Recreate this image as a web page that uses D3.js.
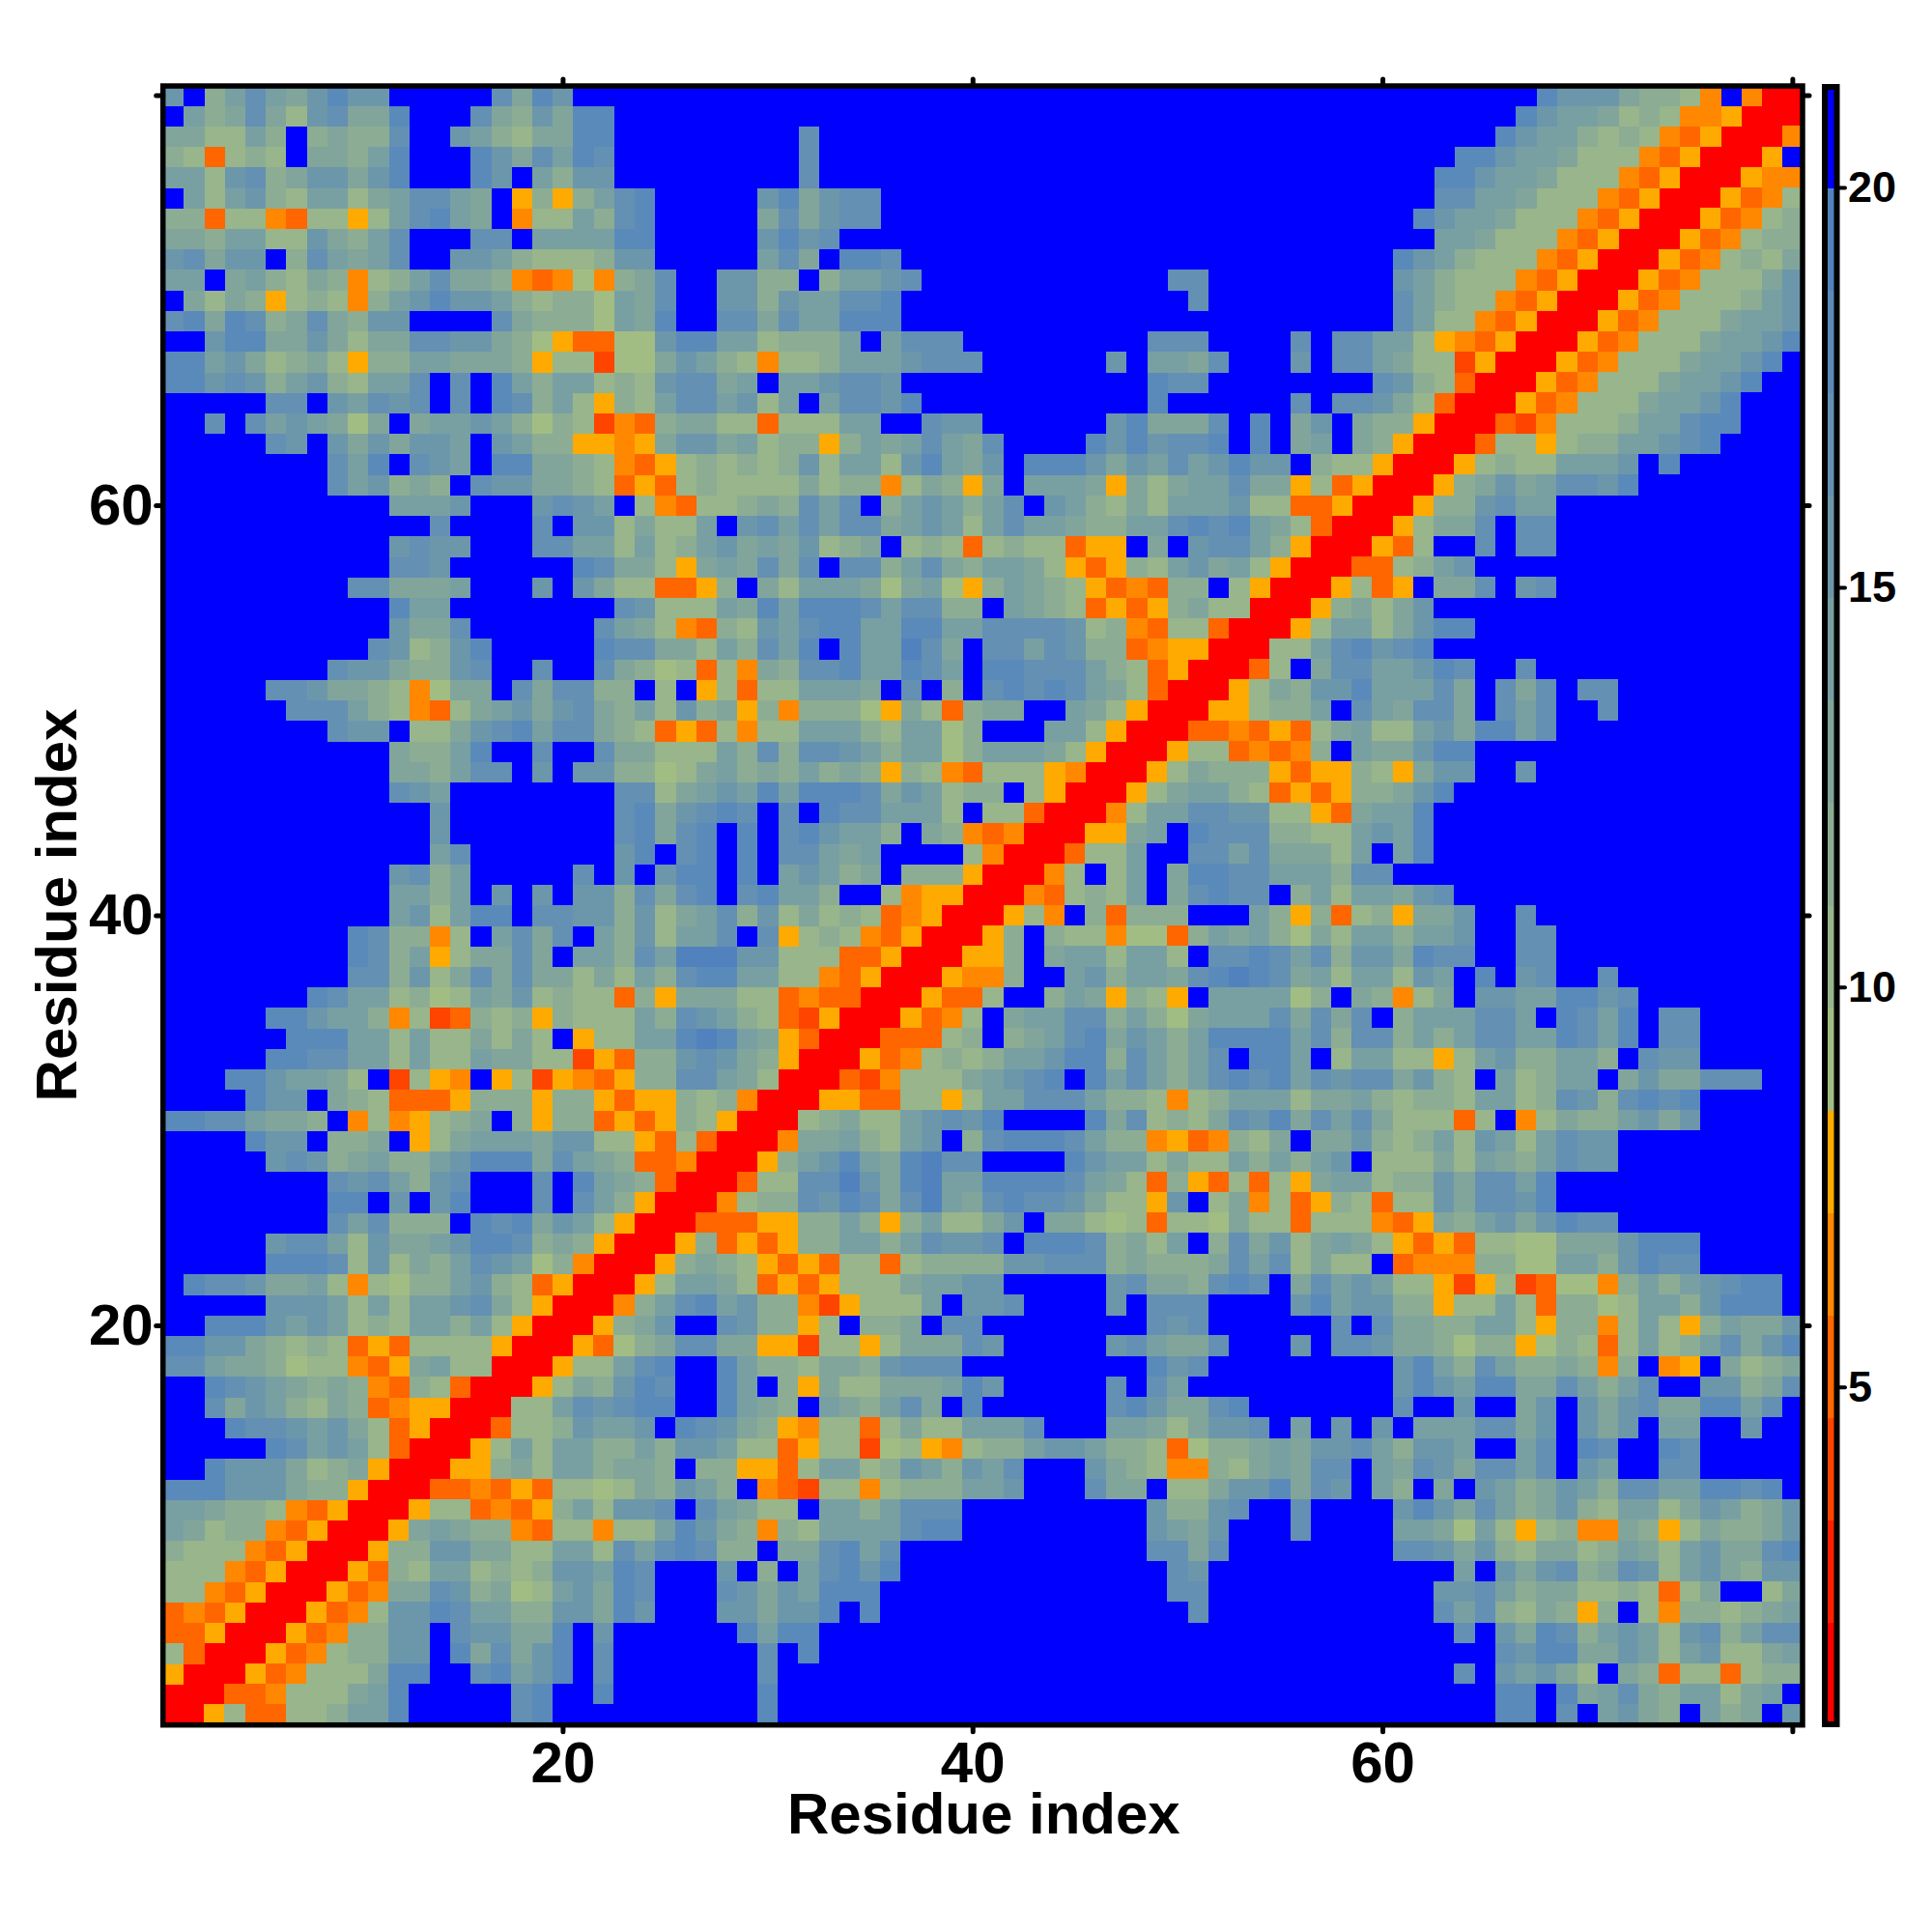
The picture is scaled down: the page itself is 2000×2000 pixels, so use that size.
<!DOCTYPE html>
<html>
<head>
<meta charset="utf-8">
<script src="https://cdn.jsdelivr.net/npm/d3@7"></script>
<style>
html,body{margin:0;padding:0;background:#fff}
svg{display:block}
text{font-family:"Liberation Sans",Arial,sans-serif;font-weight:bold;fill:#000}
</style>
</head>
<body>
<svg id="chart" width="2000" height="2000"></svg>
<script>
// Symmetric residue distance map. Each tile is 20 x 20 cells, top row first; "." is the mirrored half.
const residueCount = 80;
const tileA = ["...................R","..................RR",".................RRc","................RRc2","...............RR225","..............RRa223",".............RRc2525","............RRcc3425","...........RRaabaca2","..........RRc22abac3",".........RRc45433ba2","........RRc336644225",".......RRca325523236","......RRcab447634125",".....RRcab2668755336","....RRcab3366B766448","...RRcab23366B847468","..RRcab222488BB78568",".RRaab222458BBBBB78B","RRc2aa223558BBBBB78B"];
const tileB = ["Rc346BB7633c2B334B77","ca1347744ccD22c24447","22578BB853324436777B","43687BB85B3c42244458","76788BB8543B543574B8","6556B87643cb22a24225","5335366522ac22D12cb2","53443B33cca255236536","21243653BbaD22b23335","52667B75422B5535777B","2b2258643b325555788B","527578733B447857BBBB","6587BBB6B3B57868BBBB","6487BBB76465888BBBBB","6486BBB664668B8BBBBB","B6BBBBBB8588BBBBBBBB","B7BBBBBBB7B8BBBBBBBB","B7BBBBBBB7BBBBBBBBBB","B8BBBBBBB8BBBBBBBBBB","BBBBBBBBB8BBBBBBBBBB"];
const tileC = ["BBBBBBBB767BBBBBB7B7","6BBBBB675447BBB6B776","BBBBBBBB867BBBBBBBBB","6BBBBB7B75BBBBBBBBBB","BBBBBB7864478BBBBBBB","557BBB55424667B5B6B6","335665332a1334546675","57BBB6432bb3245477B5","56BBB744B224668476B5","BBBBBBBB63367BB7BBBB","BBBBBBBB6546BBB7BBBB","BBBBBBBB7747BBBBBBBB","BBBBBBBBB76BBBBBBBBB","BBBBBBBBB77BBBBBBBBB","BBBBBBBBBB7BBBBBBBBB","BBBBBBBBBBBBBBBBBBBB","BBBBBBBBBBBBBBBBBBBB","BBBBBBBBBBBBBBBBBBBB","BBBBBBBBBBBBBBBBBBBB","BBBBBBBBBBBBBBBBBBBB"];
const tileD = ["4433552c33b252c35446","443133c132a252357468","6853753343b3BbcB4234","6865884475357BB66347","7BB6BB46B6467448857B","B5557746B646B55BB6BB","3665BB57B87BB87BBBBB","47647757B65BB77BBBBB","3B4B653465377558878B","68647534632552465346","554152c23bb43c243346","77646324423542564478","BBB5B646734762564366","BB66753442232a24BB24","BB7573243c3B2b332345","BBB7B648735652673577","BBBBB768844652562245","BBB7B65642B43a22a233","BBBBB88B84574355245B","BBBBB88B7B5643B534B6"];
const tileE = ["...................R","..................RR",".................RRc","................RRcb","...............RRcaa","..............RRcab2",".............RRaaa23","............RRcab232","...........RRaDb2224","..........RRccaa22c2",".........RR234225676","........RRb4453256B3",".......RRc3568548977","......RRa22779648955",".....RRb233768747954","....RRaaacc3353c3522","...RRc3acac335535766","..RRc3432caca22a2333",".RRc25542acac2224556","RRb35785633bDc2225B6"];
const tileF = ["Rc2bB3a333BBB53c3a23","c3B322b11a3545314255","c3B4552552B778757366","b3BB5635547898745255","2BB354c32cB555513B43","B455773531455574747B","B3457846535888857377","355688375357B885B255","5678B857535787857677","557775332b2355524453","8BBBB847232476847574","78887533bcab324B4463","BBBB86552422535356B2","88887542a3ca2a2c4552","78776422c6B24b2ac32a","46B44212a221422a222b","7B88873425B374624542","3667773433347572422B","6BBBBB67443787B47565","67BBBB6B777BBBB68566"];
const tileG = ["c446BB7BBBBBBBBBBBBB","3556BB77BBBBBBBBBBBB","4877BB77BBBBBBBBBBBB","265B8B67BB7BBBBBBBBB","b24B66558867BBBBBBBB","3555775B8758B77BBBBB","353577558758B77BBBBB","22c25633553B766BBBBB","4632B52355B4644777BB","233255237637878BBBBB","222a2Bb24335646BBBBB","23526525766BBBBBBBBB","22425435766BBBBBBBBB","33647758BBBBBBBBBBBB","22647768BBBBBBBBBBBB","ac435646877BBBBBBBBB","caca22114446888BBBBB","abbb33115536877BBBBB","22cDc2Da11b35356788B","33c2252a33125536888B"];
const tileH = ["...................R","..................RR",".................RRc","................RRaa","...............RRc2a","..............RRc342",".............RRc2552","............RR225786","...........RRa2B4775","..........RRc2436685",".........RRcc2335B75","........RRaabaca2452",".......RRc22abab3B54","......RRc24333cacc32",".....RRc245532acac33","....RRb255776622ca45","...RRcc45B8777332256","..RRa225BB775744425B",".RRb2B25B48877555377","RRba2325B47877B35255"];
const tileI = ["Rc336755BBBBBBBBBBBB","c2447B77BBBBBBBBBBBB","a2BB7B77BBBBBBBBBBBB","2356BBBBBBBBBBBBBBBB","cB447B67BBBBBBBBBBBB","46BBBBBBBBBBBBBBBBBB","4688BBBBBBBBBBBBBBBB","78BBBBBBBBBBBBBBBBBB","5687BB7BBBBBBBBBBBBB","5574B747B77BBBBBBBBB","4774B757BB7BBBBBBBBB","25648857BBBBBBBBBBBB","4688BBBBBBBBBBBBBBBB","c466BB6BBBBBBBBBBBBB","468BBBBBBBBBBBBBBBBB","58BBBBBBBBBBBBBBBBBB","58BBBBBBBBBBBBBBBBBB","58BBBBBBBBBBBBBBBBBB","BBBBBBBBBBBBBBBBBBBB","467BBBBBBBBBBBBBBBBB"];
const tileJ = ["...................R","..................RR",".................RRb","................RRcB","...............RRcbb","..............RRcab2",".............RRcab23","............RRcab233","...........RRcab2324","..........RRcab22246",".........RRcab222356","........RRcab2224556",".......RRcab22245568","......RRcab22245568B",".....RRcab22245568BB","....RRcab22245568BBB","...RRaDb222355788BBB","..RRa22c23355678BBBB",".RRc23225556B8BBBBBB","RRc346457768BBBBBBBB"];
const tiles = [[tileA,1,20],[tileB,21,20],[tileC,41,20],[tileD,61,20],[tileE,21,40],[tileF,41,40],[tileG,61,40],[tileH,41,60],[tileI,61,60],[tileJ,61,80]];

// Each symbol stands for one colour step, read as its distance value.
const levelSymbols = ["R","r","D","a","b","c","1","2","3","4","5","6","7","8","9","B"];
const levelValues  = [1.4,2.7,4.0,5.3,6.6,7.8,9.1,10.4,11.7,13.0,14.3,15.5,16.8,18.1,19.4,20.6];
const levelColors  = ["#ff0000","#ff2000","#ff4400","#ff6600","#ff8800","#ffaa00","#a2bd83","#98b58b","#8cad93","#82a59b","#78a0a3","#6c97ab","#6490b3","#5a8ab9","#5282be","#0000ff"];
const colorMin = 0.77, colorMax = 21.28;
const axisTicks = [20,40,60,80];
const labelTicks = [20,40,60];
const barTicks = [5,10,15,20];
const axisTitle = "Residue index";

const valueOf = new Map(levelSymbols.map((s,i)=>[s,levelValues[i]]));
const cells = [];
tiles.forEach(([rows,x0,yTop])=>rows.forEach((row,r)=>row.split("").forEach((ch,c)=>{
  if(ch===".")return;
  const x=x0+c,y=yTop-r,v=valueOf.get(ch);
  cells.push({x,y,v});
  if(x!==y)cells.push({x:y,y:x,v});
})));

const left=168.7,right=1866,top_=88,bottom=1785.7;
const x=d3.scaleLinear().domain([0.5,residueCount+0.5]).range([left,right]);
const y=d3.scaleLinear().domain([0.5,residueCount+0.5]).range([bottom,top_]);
const step=(colorMax-colorMin)/levelColors.length;
const breaks=d3.range(1,levelColors.length).map(i=>colorMin+i*step);
const color=d3.scaleThreshold().domain(breaks).range(levelColors);

const svg=d3.select("#chart");
svg.append("g").attr("shape-rendering","crispEdges").selectAll("rect").data(cells).join("rect")
  .attr("x",d=>x(d.x-0.5)).attr("y",d=>y(d.y+0.5))
  .attr("width",d=>x(d.x+0.5)-x(d.x-0.5)+0.5).attr("height",d=>y(d.y-0.5)-y(d.y+0.5)+0.5)
  .attr("fill",d=>color(d.v));

function styleAxis(g,size){
  g.select(".domain").remove();
  g.selectAll(".tick line").attr("stroke","#000").attr("stroke-width",5).attr("stroke-linecap","round");
  g.selectAll(".tick text").attr("font-size",size).attr("font-family","'Liberation Sans',Arial,sans-serif").attr("font-weight","bold");
}
const fmt=d=>labelTicks.includes(d)?d:"";
svg.append("g").attr("transform",`translate(0,${bottom})`)
  .call(d3.axisBottom(x).tickValues(axisTicks).tickSize(7).tickPadding(10).tickFormat(fmt)).call(styleAxis,60);
svg.append("g").attr("transform",`translate(${left},0)`)
  .call(d3.axisLeft(y).tickValues(axisTicks).tickSize(7).tickPadding(3).tickFormat(fmt)).call(styleAxis,60);
svg.append("g").attr("transform",`translate(0,${top_+1})`)
  .call(d3.axisTop(x).tickValues(axisTicks).tickSize(7).tickFormat("")).call(styleAxis,60);
svg.append("g").attr("transform",`translate(${right},0)`)
  .call(d3.axisRight(y).tickValues(axisTicks).tickSize(7).tickFormat("")).call(styleAxis,60);
svg.append("rect").attr("x",left).attr("y",top_+1).attr("width",right-left).attr("height",bottom-top_-1)
  .attr("fill","none").attr("stroke","#000").attr("stroke-width",5.5);

svg.append("text").attr("x",(left+right)/2+1).attr("y",1898).attr("text-anchor","middle").attr("font-size",60).text(axisTitle);
svg.append("text").attr("transform","translate(79,937) rotate(-90)").attr("text-anchor","middle").attr("font-size",60).text(axisTitle);

// Colour bar
const barY=d3.scaleLinear().domain([colorMin,colorMax]).range([1786,88]);
const bar=svg.append("g").attr("shape-rendering","crispEdges");
bar.selectAll("rect").data(levelColors).join("rect")
  .attr("x",1892).attr("width",7)
  .attr("y",(d,i)=>barY(colorMin+(i+1)*step)).attr("height",(d,i)=>barY(colorMin+i*step)-barY(colorMin+(i+1)*step)+0.5)
  .attr("fill",d=>d);
svg.append("rect").attr("x",1889).attr("y",90).attr("width",12.5).attr("height",1695)
  .attr("fill","none").attr("stroke","#000").attr("stroke-width",6);
svg.append("g").attr("transform","translate(1903,0)")
  .call(d3.axisRight(barY).tickValues(barTicks).tickSize(7).tickPadding(3)).call(styleAxis,45)
  .selectAll(".tick line").attr("stroke-width",4);
</script>
</body>
</html>
